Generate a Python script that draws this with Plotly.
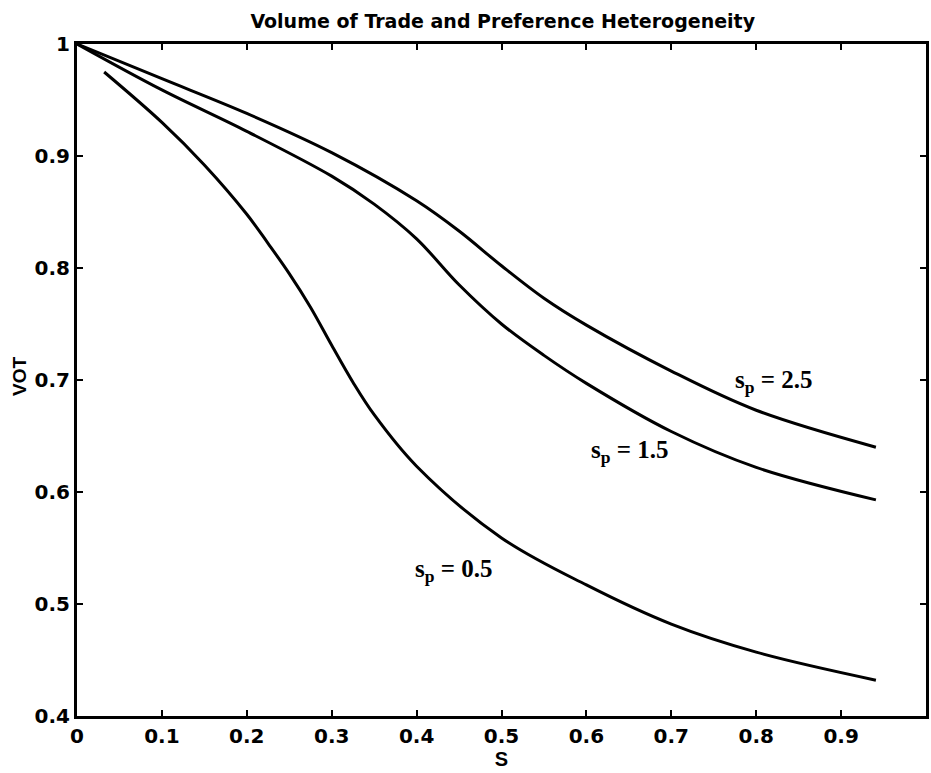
import plotly.graph_objects as go

# Data
x_sp25 = [0.0, 0.1, 0.2, 0.3, 0.4, 0.45, 0.5, 0.55, 0.6, 0.7, 0.8, 0.941]
y_sp25 = [1.0, 0.969, 0.938, 0.903, 0.860, 0.833, 0.802, 0.773, 0.749, 0.708, 0.673, 0.640]

x_sp15 = [0.0, 0.1, 0.2, 0.3, 0.35, 0.4, 0.45, 0.5, 0.55, 0.6, 0.7, 0.8, 0.941]
y_sp15 = [1.0, 0.959, 0.922, 0.882, 0.857, 0.826, 0.785, 0.750, 0.722, 0.697, 0.654, 0.622, 0.593]

x_sp05 = [0.032, 0.1, 0.15, 0.2, 0.225, 0.25, 0.275, 0.3, 0.325, 0.35, 0.4, 0.5, 0.6, 0.7, 0.8, 0.941]
y_sp05 = [0.975, 0.930, 0.892, 0.848, 0.822, 0.795, 0.765, 0.731, 0.698, 0.669, 0.623, 0.559, 0.517, 0.482, 0.457, 0.432]

labels = ["s<sub>p</sub> = 2.5", "s<sub>p</sub> = 1.5", "s<sub>p</sub> = 0.5"]
label_x = [0.820, 0.651, 0.444]
label_y = [0.699, 0.636, 0.530]

x_ticks = [0, 0.1, 0.2, 0.3, 0.4, 0.5, 0.6, 0.7, 0.8, 0.9, 1.0]
x_ticktext = ["0", "0.1", "0.2", "0.3", "0.4", "0.5", "0.6", "0.7", "0.8", "0.9", "1"]
y_ticks = [0.4, 0.5, 0.6, 0.7, 0.8, 0.9, 1.0]
y_ticktext = ["0.4", "0.5", "0.6", "0.7", "0.8", "0.9", "1"]

fig = go.Figure()
for xs, ys in [(x_sp25, y_sp25), (x_sp15, y_sp15), (x_sp05, y_sp05)]:
    fig.add_trace(go.Scatter(x=xs, y=ys, mode="lines",
                             line=dict(color="black", width=3, shape="spline", smoothing=1.0),
                             showlegend=False, hoverinfo="skip"))

for t, lx, ly in zip(labels, label_x, label_y):
    fig.add_annotation(x=lx, y=ly, text="<b>" + t + "</b>", showarrow=False,
                       font=dict(family="Liberation Serif", size=25, color="black"))

# y-axis title placed as a rotated annotation
fig.add_annotation(xref="paper", yref="paper", x=-0.068, y=0.505, text="<b>VOT</b>",
                   textangle=-90, showarrow=False, xanchor="center", yanchor="middle",
                   font=dict(family="Liberation Sans", size=19, color="black"))

tick_font = dict(family="DejaVu Sans", size=20, color="black")
fig.update_layout(
    width=931, height=773,
    margin=dict(l=77, r=2, t=44, b=57),
    plot_bgcolor="white", paper_bgcolor="white",
    title=dict(text="<b>Volume of Trade and Preference Heterogeneity</b>",
               x=0.54, xanchor="center", y=0.972, yanchor="middle",
               font=dict(family="DejaVu Sans", size=19, color="black")),
    xaxis=dict(range=[0, 1], tickvals=x_ticks,
               ticktext=["<b>" + t + "</b>" for t in x_ticktext],
               ticks="inside", ticklen=6, tickwidth=2, tickcolor="black",
               showline=True, linecolor="black", linewidth=3, mirror="ticks",
               showgrid=False, zeroline=False,
               tickfont=tick_font,
               title=dict(text="<b>S</b>", font=dict(family="Liberation Sans", size=20, color="black"), standoff=0)),
    yaxis=dict(range=[0.4, 1], tickvals=y_ticks,
               ticktext=["<b>" + t + "</b>" for t in y_ticktext],
               ticks="inside", ticklen=6, tickwidth=2, tickcolor="black",
               showline=True, linecolor="black", linewidth=3, mirror="ticks",
               showgrid=False, zeroline=False,
               tickfont=tick_font),
)

fig.write_html("out.html")
